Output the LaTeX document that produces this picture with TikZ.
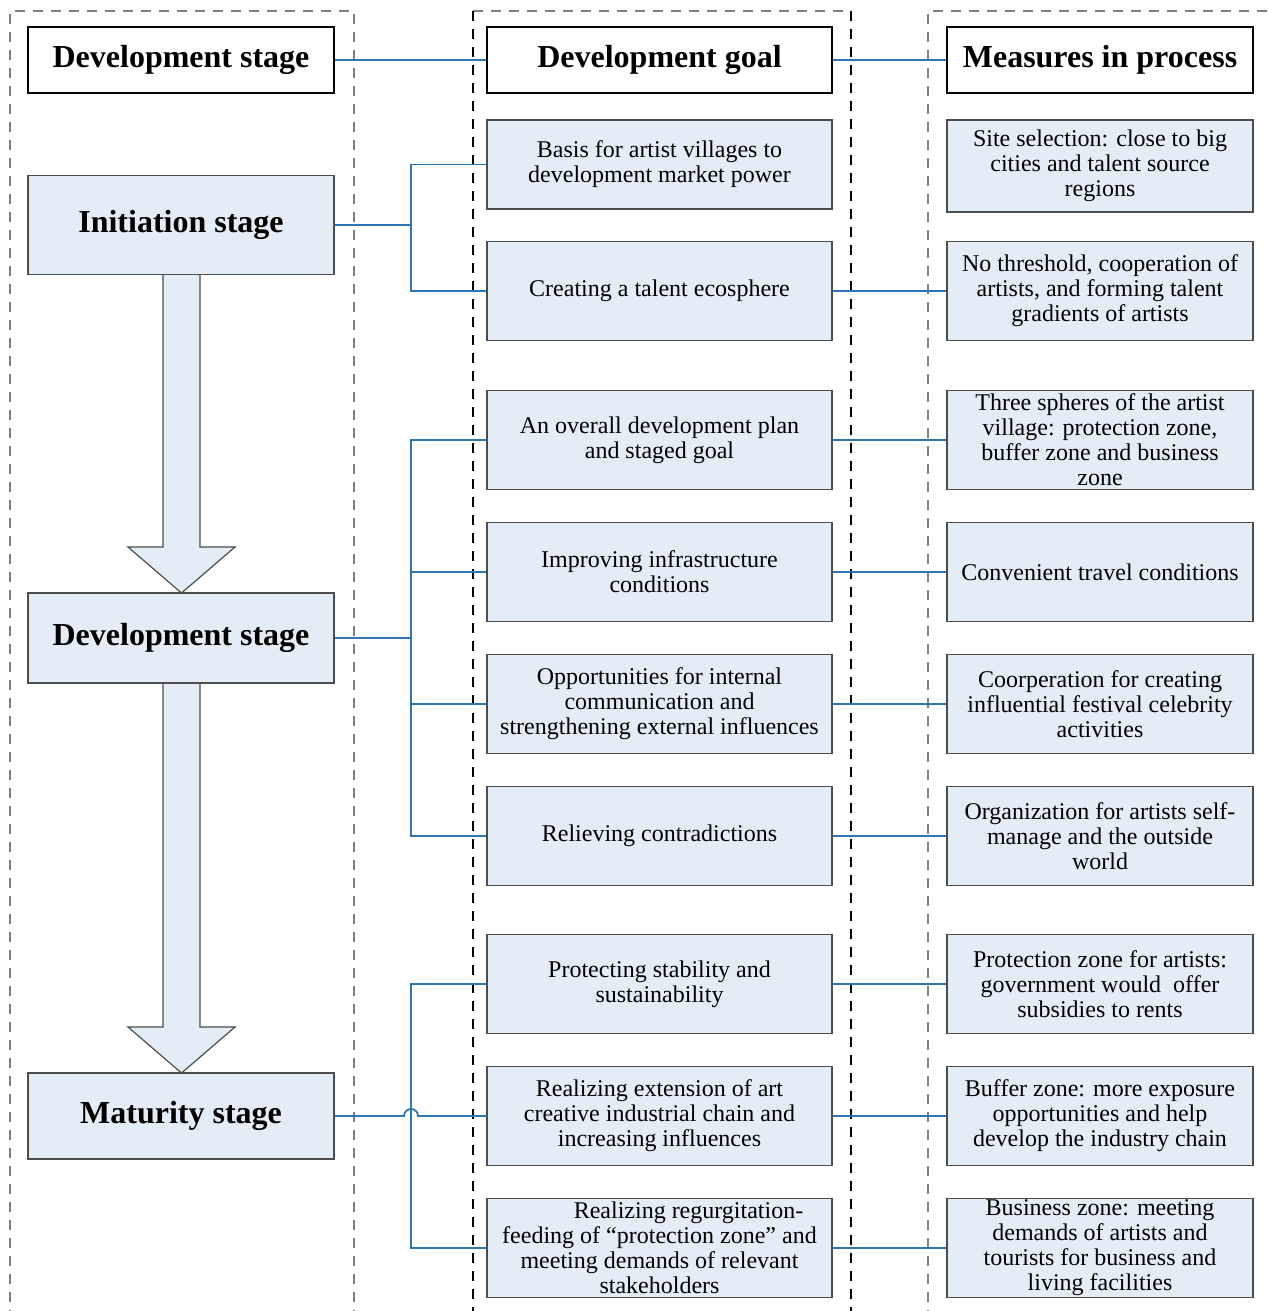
\documentclass[tikz,border=0pt]{standalone}
\usepackage{fontspec}
\setmainfont{Liberation Serif}
\definecolor{boxfill}{HTML}{E4ECF6}
\definecolor{linkblue}{HTML}{2E75B6}
\definecolor{edgegray}{HTML}{4D4D4D}
\tikzset{
  hdr/.style={draw=black,fill=white,line width=0.6pt,minimum width=153pt,minimum height=33pt,inner sep=0pt,font=\fontsize{16}{18}\selectfont\bfseries},
  stg/.style={hdr,draw=edgegray,fill=boxfill},
  goal/.style={draw=edgegray,fill=boxfill,line width=0.6pt,minimum width=172.5pt,minimum height=49.5pt,inner sep=0pt,align=center,font=\fontsize{12}{12.5}\selectfont},
  meas/.style={goal,minimum width=153pt},
  link/.style={draw=linkblue,line width=0.9pt},
  col/.style={dash pattern=on 5pt off 4pt,line width=0.6pt}
}

\begin{document}
\begin{tikzpicture}[line cap=butt,line join=miter,x=0.5pt,y=-0.5pt]
\useasboundingbox (0,0) rectangle (1268,1311);
% dashed columns
\draw[col,gray] (10,1320)--(10,11)--(354,11)--(354,1320);
\draw[col,gray] (473,11)--(851,11);
\draw[col,black] (473,11)--(473,1320) (851,11)--(851,1320);
\draw[col,gray] (928,1320)--(928,11)--(1275,11);
% big arrows between stages
\filldraw[fill=boxfill,draw=edgegray,line width=0.6pt] (163,275)--(163,547)--(128,547)--(181.5,593)--(235,547)--(200,547)--(200,275);
\filldraw[fill=boxfill,draw=edgegray,line width=0.6pt] (163,683)--(163,1027)--(128,1027)--(181.5,1073)--(235,1027)--(200,1027)--(200,683);
% headers
\node[hdr] (h1) at (181,60) {Development stage};
\node[hdr,minimum width=172.5pt] (h2) at (659.5,60) {Development goal};
\node[hdr] (h3) at (1100,60) {Measures in process};
% stages
\node[stg,minimum height=49.5pt] (s1) at (181,225) {Initiation stage};
\node[stg,minimum height=45pt] (s2) at (181,638) {Development stage};
\node[stg,minimum height=43pt] (s3) at (181,1116) {Maturity stage};
% goals
\node[goal,minimum height=44.5pt] (g1) at (659.5,164.5) {Basis for artist villages to\\development market power};
\node[goal] (g2) at (659.5,291) {Creating a talent ecosphere};
\node[goal] (g3) at (659.5,440) {An overall development plan\\and staged goal};
\node[goal] (g4) at (659.5,572) {Improving infrastructure\\conditions};
\node[goal] (g5) at (659.5,704) {Opportunities for internal\\communication and\\strengthening external influences};
\node[goal] (g6) at (659.5,836) {Relieving contradictions};
\node[goal] (g7) at (659.5,984) {Protecting stability and\\sustainability};
\node[goal] (g8) at (659.5,1116) {Realizing extension of art\\creative industrial chain and\\increasing influences};
\node[goal] (g9) at (659.5,1248) {\hspace*{29pt}Realizing regurgitation-\\feeding of “protection zone” and\\meeting demands of relevant\\stakeholders};
% measures
\node[meas,minimum height=46pt] (m1) at (1100,166) {Site selection: close to big\\cities and talent source\\regions};
\node[meas] (m2) at (1100,291) {No threshold, cooperation of\\artists, and forming talent\\gradients of artists};
\node[meas] (m3) at (1100,440) {Three spheres of the artist\\village: protection zone,\\buffer zone and business\\zone};
\node[meas] (m4) at (1100,572) {Convenient travel conditions};
\node[meas] (m5) at (1100,704) {Coorperation for creating\\influential festival celebrity\\activities};
\node[meas] (m6) at (1100,836) {Organization for artists self-\\manage and the outside\\world};
\node[meas] (m7) at (1100,984) {Protection zone for artists:\\government would\ \ offer\\subsidies to rents};
\node[meas] (m8) at (1100,1116) {Buffer zone: more exposure\\opportunities and help\\develop the industry chain};
\node[meas] (m9) at (1100,1248) {Business zone: meeting\\demands of artists and\\tourists for business and\\living facilities};
% connectors
\draw[link] (h1.east)--(h2.west) (h2.east)--(h3.west);
\coordinate (j1) at (411,225);
\coordinate (j2) at (411,638);
\coordinate (j3) at (411,1116);
\draw[link] (s1.east)--(j1);
\draw[link] (g1.west) -| (j1) |- (g2.west);
\draw[link] (s2.east)--(j2);
\draw[link] (g3.west) -| (j2) |- (g6.west);
\foreach \i in {4,5}
  \draw[link] (j2 |- g\i.west)--(g\i.west);
\draw[link] (g7.west) -| (j3) |- (g9.west);
\draw[link] (s3.east)--([xshift=-3.5pt]j3) arc[start angle=180,end angle=0,radius=3.5pt]--(g8.west);
\foreach \i in {2,...,9}
  \draw[link] (g\i.east)--(m\i.west);
\end{tikzpicture}
\end{document}
